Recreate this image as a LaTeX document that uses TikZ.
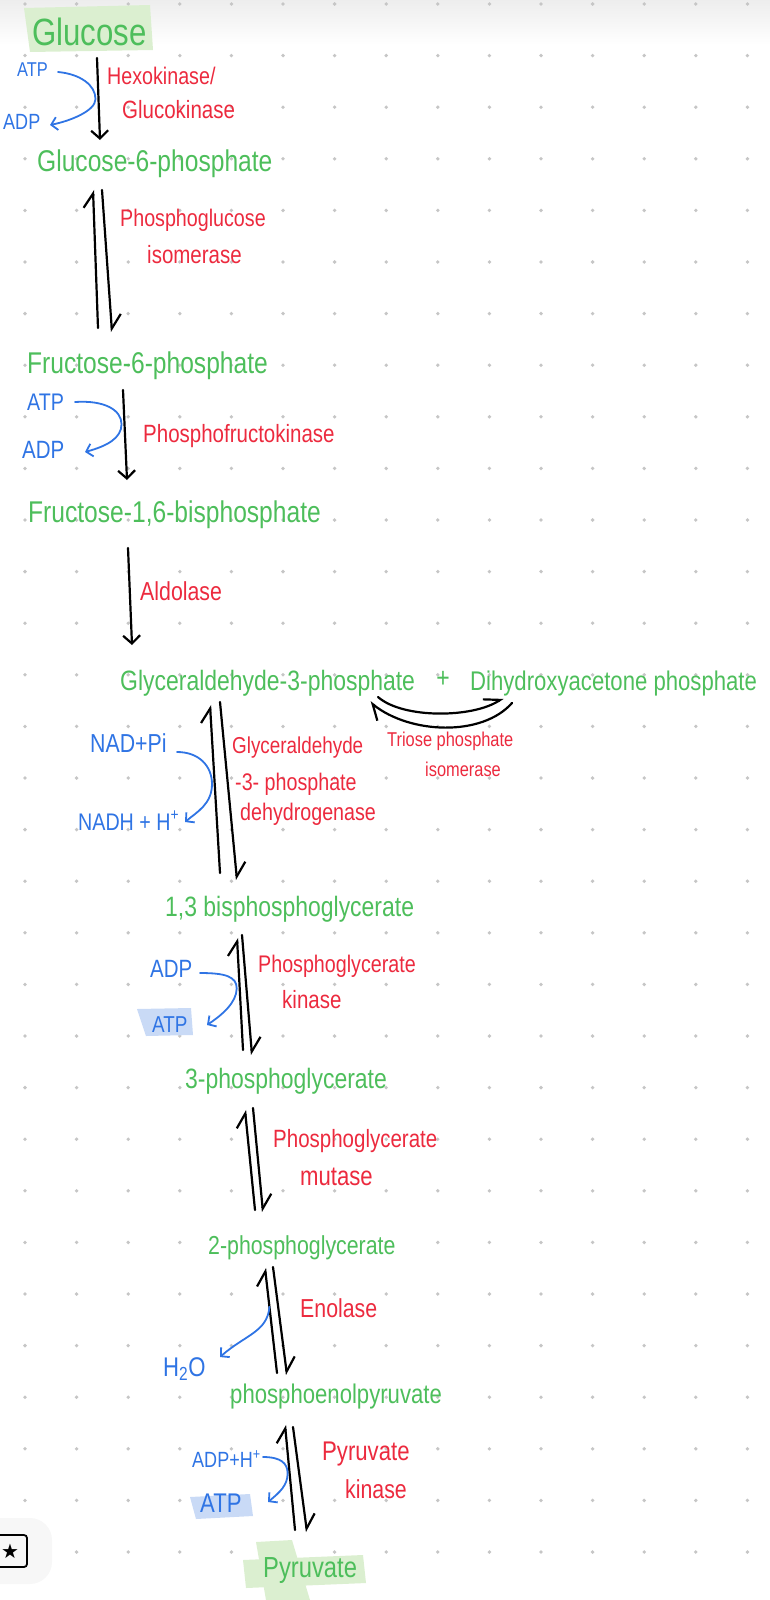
\documentclass[tikz,border=0pt]{standalone}
\usepackage{fontspec}
\setmainfont{Liberation Sans}[FakeStretch=0.82]
\newfontfamily\symfont{DejaVu Sans}
\usetikzlibrary{calc,arrows.meta}
\definecolor{cpdGreen}{HTML}{4DBE5B}
\definecolor{enzRed}{HTML}{EC2A3E}
\definecolor{cofBlue}{HTML}{2F74E4}
\definecolor{hlGreen}{HTML}{DBEFD0}
\definecolor{hlBlue}{HTML}{C9DAF6}
\definecolor{dotGrey}{HTML}{C6C6C6}
\newcommand{\txtsize}[1]{\fontsize{#1}{#1}\selectfont}

\begin{document}
\begin{tikzpicture}[x=1pt,y=-1pt,
  cpd/.style={text=cpdGreen, inner sep=0pt, anchor=base west, font=\txtsize{#1}},
  enz/.style={text=enzRed, inner sep=0pt, anchor=base west, font=\txtsize{#1}},
  cof/.style={text=cofBlue, inner sep=0pt, anchor=base west, font=\txtsize{#1}},
  fwd/.style={line width=2.2pt, line cap=round, -{Straight Barb[length=8pt,width=17pt]}},
  eqm/.style={line width=2.2pt, line cap=round, -{Straight Barb[left,length=14pt,width=20pt]}},
  cofarr/.style={cofBlue, line width=1.8pt, line cap=round, -{Straight Barb[length=6pt,width=13pt]}}]
  \useasboundingbox (0,0) rectangle (770,1600);
  % paper: shadow at the top and dot grid
  \shade[top color=black!7, bottom color=white] (0,0) rectangle (770,45);
  \foreach \i in {0,...,14} {
    \foreach \j in {0,...,30} {
      \fill[dotGrey] ({25+51.6*\i},{4+51.6*\j}) circle (1.9pt);
    }
  }
  % highlighter marks
  \fill[hlGreen] (24,8) -- (150,5) -- (153,50) -- (30,52) -- cycle;
  \fill[hlBlue] (137,1009) -- (191,1008) -- (193,1035) -- (146,1036) -- cycle;
  \fill[hlBlue] (190,1497) -- (250,1494) -- (253,1516) -- (196,1519) -- cycle;
  \fill[hlGreen] (256,1542) -- (292,1540) -- (310,1600) -- (266,1600) -- cycle;
  \fill[hlGreen] (243,1560) -- (363,1555) -- (366,1583) -- (246,1588) -- cycle;

  % the pathway (green)
  \node[cpd=38] (glc)   at (32,46)    {Glucose};
  \node[cpd=30] (g6p)   at (37,171)   {Glucose-6-phosphate};
  \node[cpd=30] (f6p)   at (27,373)   {Fructose-6-phosphate};
  \node[cpd=30] (f16bp) at (28,522)   {Fructose-1,6-bisphosphate};
  \node[cpd=28] (gap)   at (120,690)  {Glyceraldehyde-3-phosphate};
  \node[cpd=28, anchor=center] (plus) at (443,679) {+};
  \node[cpd=27] (dhap)  at (470,690)  {Dihydroxyacetone phosphate};
  \node[cpd=28] (bpg)   at (165,916)  {1,3 bisphosphoglycerate};
  \node[cpd=28] (pg3)   at (185,1088) {3-phosphoglycerate};
  \node[cpd=26] (pg2)   at (208,1254) {2-phosphoglycerate};
  \node[cpd=27] (pep)   at (230,1403) {phosphoenolpyruvate};
  \node[cpd=29] (pyr)   at (263,1577) {Pyruvate};

  % enzymes (red)
  \node[enz=24] (hk1)    at (107,85)   {Hexokinase/};
  \node[enz=25] (hk2)    at (122,118)  {Glucokinase};
  \node[enz=24] (pgi1)   at (120,226)  {Phosphoglucose};
  \node[enz=25] (pgi2)   at (147,263)  {isomerase};
  \node[enz=25] (pfk)    at (143,442)  {Phosphofructokinase};
  \node[enz=26] (ald)    at (140,600)  {Aldolase};
  \node[enz=23] (gapdh1) at (232,753)  {Glyceraldehyde};
  \node[enz=24] (gapdh2) at (235,790)  {-3- phosphate};
  \node[enz=24] (gapdh3) at (240,820)  {dehydrogenase};
  \node[enz=20] (tpi1)   at (387,746)  {Triose phosphate};
  \node[enz=20] (tpi2)   at (425,776)  {isomerase};
  \node[enz=24] (pgk1)   at (258,972)  {Phosphoglycerate};
  \node[enz=25] (pgk2)   at (282,1008) {kinase};
  \node[enz=25] (pgm1)   at (273,1147) {Phosphoglycerate};
  \node[enz=27] (pgm2)   at (300,1185) {mutase};
  \node[enz=26] (eno)    at (300,1317) {Enolase};
  \node[enz=27] (pk1)    at (322,1460) {Pyruvate};
  \node[enz=26] (pk2)    at (345,1498) {kinase};

  % cofactors (blue)
  \node[cof=20] (atp1) at (17,77)    {ATP};
  \node[cof=22] (adp1) at (3,130)    {ADP};
  \node[cof=24] (atp2) at (27,410)   {ATP};
  \node[cof=25] (adp2) at (22,458)   {ADP};
  \node[cof=26] (nad)  at (90,752)   {NAD+Pi};
  \node[cof=24] (nadh) at (78,830)   {NADH + H\textsuperscript{+}};
  \node[cof=25] (adp3) at (150,977)  {ADP};
  \node[cof=23] (atp3) at (152,1032) {ATP};
  \node[cof=27] (h2o)  at (163,1376) {H\textsubscript{2}O};
  \node[cof=22] (adph) at (192,1467) {ADP+H\textsuperscript{+}};
  \node[cof=27] (atp4) at (200,1512) {ATP};

  % step 1
  \draw[fwd] ($(glc.base west)+(65,12)$) -- coordinate[pos=0.5] (hkMid) ($(g6p.base west)+(63,-31)$);
  \draw[cofarr] ($(atp1.base west)+(41,-5)$) .. controls +(22,2) and +(0,-14) .. ($(hkMid)+(-3,0)$)
    .. controls +(0,12) and +(20,-4) .. ($(adp1.base west)+(47,-5)$);
  % step 2
  \draw[eqm] ($(f6p.base west)+(71,-45)$) -- ($(g6p.base west)+(56,19)$);
  \draw[eqm] ($(g6p.base west)+(65,19)$) -- ($(f6p.base west)+(85,-41)$);
  % step 3
  \draw[fwd] ($(f6p.base west)+(96,17)$) -- coordinate[pos=0.38] (pfkMid) ($(f16bp.base west)+(99,-42)$);
  \draw[cofarr] ($(atp2.base west)+(48,-8)$) .. controls +(30,-2) and +(0,-14) .. ($(pfkMid)+(-3,0)$)
    .. controls +(0,14) and +(22,-6) .. ($(adp2.base west)+(63,-6)$);
  % step 4
  \draw[fwd] ($(f16bp.base west)+(100,26)$) -- ($(gap.base west)+(12,-45)$);
  % step 5: triose phosphate isomerase
  \draw[eqm] ($(gap.base west)+(258,7)$) .. controls +(25,22) and +(-30,20) .. ($(dhap.base west)+(33,8)$);
  \draw[eqm] ($(dhap.base west)+(42,13)$) .. controls +(-30,34) and +(40,32) .. ($(gap.base west)+(250,12)$);
  % step 6
  \draw[eqm] ($(bpg.base west)+(55,-43)$) -- coordinate[pos=0.5] (gapdhMid) ($(gap.base west)+(90,15)$);
  \draw[eqm] ($(gap.base west)+(100,12)$) -- ($(bpg.base west)+(72,-36)$);
  \draw[cofarr] ($(nad.base west)+(87,0)$) .. controls +(22,0) and +(0,-18) .. ($(gapdhMid)+(-3,-5)$)
    .. controls +(0,20) and +(12,-10) .. ($(nadh.base west)+(107,-8)$);
  % step 7
  \draw[eqm] ($(pg3.base west)+(58,-38)$) -- coordinate[pos=0.55] (pgkMid) ($(bpg.base west)+(72,22)$);
  \draw[eqm] ($(bpg.base west)+(77,19)$) -- ($(pg3.base west)+(67,-33)$);
  \draw[cofarr] ($(adp3.base west)+(50,-4)$) .. controls +(25,0) and +(0,-12) .. ($(pgkMid)+(-3,0)$)
    .. controls +(0,14) and +(15,-10) .. ($(atp3.base west)+(55,-7)$);
  % step 8
  \draw[eqm] ($(pg2.base west)+(47,-44)$) -- ($(pg3.base west)+(60,22)$);
  \draw[eqm] ($(pg3.base west)+(68,20)$) -- ($(pg2.base west)+(55,-42)$);
  % step 9
  \draw[eqm] ($(pep.base west)+(47,-30)$) -- coordinate[pos=0.63] (enoMid) ($(pg2.base west)+(57,14)$);
  \draw[eqm] ($(pg2.base west)+(65,13)$) -- ($(pep.base west)+(57,-28)$);
  \draw[cofarr] (enoMid) .. controls +(-2,25) and +(25,-22) .. ($(h2o.base west)+(57,-19)$);
  % step 10
  \draw[eqm] ($(pyr.base west)+(32,-47)$) -- coordinate[pos=0.54] (pkMid) ($(pep.base west)+(55,22)$);
  \draw[eqm] ($(pep.base west)+(63,24)$) -- ($(pyr.base west)+(44,-45)$);
  \draw[cofarr] ($(adph.base west)+(71,-10)$) .. controls +(18,0) and +(0,-10) .. ($(pkMid)+(-2,0)$)
    .. controls +(0,12) and +(12,-10) .. ($(atp4.base west)+(68,-10)$);

  % app button, bottom left
  \fill[black!3, rounded corners=22pt] (-30,1518) rectangle (52,1584);
  \node[draw=black, line width=1.8pt, rounded corners=3pt, minimum width=34pt, minimum height=32pt,
    inner sep=0pt, font=\symfont\txtsize{20}] (fav) at (10,1551) {★};
\end{tikzpicture}
\end{document}
